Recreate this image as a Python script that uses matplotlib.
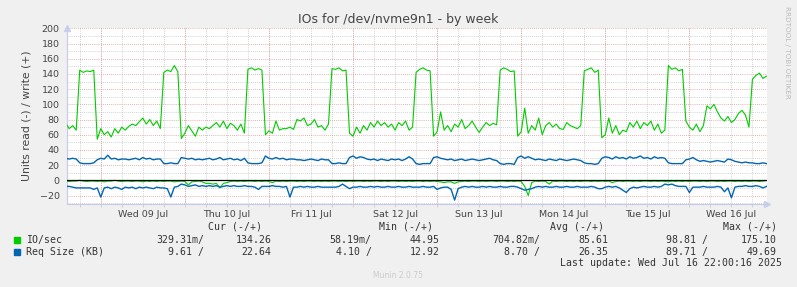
import numpy as np
import pandas as pd
import matplotlib
matplotlib.use('Agg')
import matplotlib.pyplot as plt
from matplotlib.patches import Rectangle

# hourly samples, Jul 8 14:00 .. Jul 16 22:00
times = pd.date_range('2025-07-08 14:00', periods=201, freq='h')

# IO/sec write (+), one row per 24 h
io_write = [
    75, 68, 72, 66, 145, 142, 144, 143, 145, 54, 68, 60, 64, 57, 68, 62, 70, 66, 71, 74, 72, 77, 82, 74,
    80, 72, 78, 68, 142, 145, 143, 151, 143, 55, 62, 72, 65, 58, 70, 66, 70, 68, 72, 76, 70, 78, 68, 75,
    72, 66, 74, 62, 146, 148, 145, 147, 145, 60, 65, 62, 78, 66, 68, 68, 70, 67, 80, 78, 82, 72, 74, 80,
    70, 72, 66, 74, 147, 146, 148, 144, 145, 62, 58, 70, 62, 72, 66, 76, 70, 78, 72, 76, 70, 74, 66, 76,
    72, 78, 66, 70, 142, 146, 148, 145, 144, 58, 64, 90, 66, 72, 64, 74, 70, 80, 68, 72, 78, 70, 63, 70,
    76, 72, 75, 73, 145, 148, 146, 143, 144, 58, 64, 95, 62, 72, 66, 82, 60, 72, 76, 70, 74, 68, 67, 76,
    72, 70, 68, 72, 144, 146, 148, 142, 145, 56, 60, 82, 62, 72, 60, 66, 64, 76, 70, 78, 68, 76, 72, 78,
    66, 74, 62, 66, 151, 146, 148, 144, 146, 78, 70, 66, 74, 64, 72, 98, 94, 100, 90, 82, 78, 84, 76, 80,
    88, 92, 86, 70, 133, 138, 141, 134, 137,
]

# IO/sec read (-), plotted below zero
io_read = [
    1, 1.5, 1, 1, 0, 1, 1.5, 1, 1, 1.5, 1, 2, 1, 1, 0, 1, 1.5, 1, 1, 1.5, 1, 1, 2, 1,
    1.5, 1, 1.5, 1, 1.5, 1, 1, 2, 1.5, 1, 1.5, 6, 2, 1.5, 1, 2, 4, 4, 5, 4, 10, 4, 3, 1.5,
    1, 1.5, 1, 1.5, 1, 1, 1.5, 1, 1.5, 1, 1.5, 3, 1, 1.5, 1, 1.5, 1, 1, 1.5, 1, 1.5, 1, 1, 1.5,
    1, 1.5, 1, 1.5, 1, 1, 1.5, 1, 1.5, 1, 1.5, 1, 1, 1.5, 1, 1.5, 1, 1, 1.5, 1, 1.5, 1, 1, 1.5,
    1, 1.5, 1, 1.5, 1, 1, 1.5, 1, 1.5, 1, 1.5, 2, 3, 2, 2, 4, 2, 1.5, 1, 1.5, 1, 1, 1.5, 1,
    1.5, 1, 1, 1.5, 1, 1, 1.5, 1, 1.5, 1, 1.5, 8, 20, 3, 1, 1.5, 1, 1.5, 5, 1, 1.5, 1, 1, 1.5,
    1, 1.5, 1, 1.5, 1, 1, 1.5, 1, 1.5, 1, 1.5, 1, 3, 1.5, 1, 1.5, 1, 1, 1.5, 1, 1.5, 1, 1, 1.5,
    1, 1.5, 1, 1.5, 2, 1, 1.5, 1, 1.5, 1, 1.5, 1, 1, 1.5, 1, 1.5, 1, 1, 1.5, 1, 1.5, 1, 1, 1.5,
    1, 1.5, 1, 1.5, 1, 1, 1.5, 1, 0.3,
]

# Req Size (KB) write (+)
req_write = [
    29, 28, 29, 28, 23, 22, 22, 22, 23, 27, 29, 28, 33, 28, 29, 27, 28, 28, 27, 28, 29, 27, 30, 28,
    29, 27, 28, 28, 22, 22, 23, 22, 22, 30, 29, 28, 29, 27, 28, 27, 28, 29, 27, 28, 30, 27, 28, 29,
    27, 28, 26, 29, 23, 22, 22, 22, 23, 32, 29, 28, 30, 28, 29, 27, 28, 28, 27, 27, 26, 27, 28, 27,
    26, 28, 27, 27, 22, 22, 23, 22, 22, 30, 32, 29, 31, 30, 28, 27, 28, 26, 28, 27, 26, 28, 27, 28,
    26, 28, 31, 28, 22, 21, 22, 22, 22, 30, 31, 29, 28, 27, 28, 26, 27, 28, 26, 27, 28, 27, 26, 27,
    28, 29, 27, 26, 22, 21, 22, 22, 21, 30, 32, 29, 31, 29, 27, 28, 27, 26, 28, 27, 26, 28, 27, 26,
    27, 28, 27, 26, 23, 22, 22, 21, 22, 29, 31, 30, 28, 31, 29, 30, 28, 31, 29, 30, 32, 29, 30, 28,
    31, 29, 30, 29, 23, 22, 22, 22, 22, 27, 28, 30, 27, 25, 26, 25, 24, 25, 26, 25, 24, 28, 27, 25,
    24, 23, 24, 23, 23, 22, 22, 23, 22,
]

# Req Size (KB) read (-)
req_read = [
    8, 8, 9, 10, 10, 10, 10, 10, 12, 10, 22, 10, 9, 11, 9, 10, 12, 9, 10, 9, 11, 9, 10, 9,
    10, 11, 9, 10, 10, 11, 22, 9, 8, 5, 6, 8, 7, 6, 8, 7, 8, 7, 8, 7, 9, 8, 7, 8,
    7, 8, 8, 7, 8, 8, 9, 12, 8, 8, 8, 7, 8, 8, 9, 8, 22, 9, 9, 8, 9, 8, 9, 9,
    8, 9, 9, 9, 9, 9, 8, 5, 8, 11, 9, 9, 8, 9, 9, 8, 9, 8, 9, 9, 8, 9, 9, 8,
    9, 9, 8, 9, 9, 9, 8, 9, 9, 8, 12, 10, 9, 9, 12, 26, 11, 9, 8, 9, 8, 9, 9, 8,
    9, 8, 9, 9, 8, 9, 9, 8, 8, 9, 11, 13, 12, 11, 9, 8, 9, 8, 9, 9, 8, 9, 9, 8,
    9, 9, 8, 9, 9, 9, 8, 9, 11, 11, 9, 8, 9, 8, 10, 13, 16, 11, 9, 10, 9, 8, 9, 9,
    8, 9, 8, 5, 6, 5, 7, 8, 8, 8, 16, 9, 9, 9, 8, 9, 9, 9, 8, 9, 15, 10, 23, 9,
    8, 8, 7, 8, 8, 7, 8, 10, 8,
]

day_labels = ['Wed 09 Jul', 'Thu 10 Jul', 'Fri 11 Jul', 'Sat 12 Jul',
              'Sun 13 Jul', 'Mon 14 Jul', 'Tue 15 Jul', 'Wed 16 Jul']
stat_headers = ['Cur (-/+)', 'Min (-/+)', 'Avg (-/+)', 'Max (-/+)']
io_stats = ['329.31m/', '134.26', '58.19m/', '44.95', '704.82m/', '85.61', '98.81 /', '175.10']
req_stats = ['9.61 /', '22.64', '4.10 /', '12.92', '8.70 /', '26.35', '89.71 /', '49.69']

GREEN = '#00CC00'
BLUE = '#0066B3'
TXT = '#444444'
RED_GRID = '#E09898'
GREY_GRID = '#C4C4C4'
DOTS = (0, (1, 1.5))
W, H = 797, 287


def fxy(x, y):
    return x / W, 1 - y / H


fig = plt.figure(figsize=(W / 100, H / 100), dpi=100, facecolor='#F0F0F0')
ax = fig.add_axes([66.7 / W, 1 - 203.5 / H, 700 / W, (203.5 - 28.3) / H])
ax.set_facecolor('white')

ax.plot(times, io_write, color=GREEN, lw=0.8, zorder=3)
ax.plot(times, req_write, color=BLUE, lw=1.0, zorder=3)
ax.plot(times, -np.array(io_read), color=GREEN, lw=0.8, zorder=3)
ax.plot(times, -np.array(req_read), color=BLUE, lw=1.0, zorder=3)
ax.axhline(0, color='black', lw=0.9, zorder=4)

ax.set_xlim(pd.Timestamp('2025-07-08 14:17'), pd.Timestamp('2025-07-16 22:04'))
ax.set_ylim(-30.5, 200)

# y grid: red every 20, grey every 10
ax.set_yticks(np.arange(-20, 201, 20))
ax.set_yticks(np.arange(-30, 201, 10), minor=True)
ax.grid(True, which='major', axis='y', color=RED_GRID, lw=0.6, ls=DOTS)
ax.grid(True, which='minor', axis='y', color=GREY_GRID, lw=0.6, ls=DOTS)

# x: labels at noon, grey grid every 6 h, red at midnight
noons = pd.date_range('2025-07-09 12:00', periods=8, freq='D')
ax.set_xticks(noons)
ax.set_xticklabels(day_labels)
ax.set_xticks(pd.date_range('2025-07-08 18:00', '2025-07-16 18:00', freq='6h'), minor=True)
ax.xaxis.remove_overlapping_locs = False
ax.grid(True, which='minor', axis='x', color=GREY_GRID, lw=0.6, ls=DOTS)
for d in pd.date_range('2025-07-09', periods=8, freq='D'):
    ax.axvline(d, color=RED_GRID, lw=0.6, ls=DOTS, zorder=1)
ax.set_axisbelow(True)

ax.tick_params(axis='x', which='major', length=0, pad=5, labelsize=6.8, labelcolor=TXT)
ax.tick_params(axis='x', which='minor', length=2, color='#CCCCCC')
ax.tick_params(axis='y', which='both', length=0, pad=5, labelsize=6.8, labelcolor=TXT)

for s in ['top', 'right']:
    ax.spines[s].set_visible(False)
for s in ['left', 'bottom']:
    ax.spines[s].set_color('#C8C8E8')
    ax.spines[s].set_linewidth(0.8)
ax.plot([1.0], [0], marker='>', color='#C8D0F0', ms=4, transform=ax.transAxes, clip_on=False)
ax.plot([0], [1.0], marker='^', color='#C8D0F0', ms=4, transform=ax.transAxes, clip_on=False)

ax.set_ylabel('Units read (-) / write (+)', fontsize=7.8, color=TXT, labelpad=6)

fig.text(*fxy(398.5, 19), 'IOs for /dev/nvme9n1 - by week', ha='center', va='center',
         fontsize=9, color=TXT)
fig.text(*fxy(787.5, 52), 'RRDTOOL / TOBI OETIKER', ha='center', va='center',
         rotation=270, fontsize=5.2, color='#BBBBBB')
fig.text(*fxy(398, 276), 'Munin 2.0.75', ha='center', va='center', fontsize=5.5, color='#CCCCCC')

mono = dict(family='DejaVu Sans Mono', fontsize=7.1, color='#333333', va='center')
for lab, r in zip(stat_headers, [262, 433, 604, 776.7]):
    fig.text(*fxy(r, 226.7), lab, ha='right', **mono)
rights = [204, 271.7, 371.7, 440, 540, 608.3, 708.3, 776.7]
for row_y, name, vals, col in [(240, 'IO/sec', io_stats, GREEN),
                                (251.7, 'Req Size (KB)', req_stats, BLUE)]:
    fig.add_artist(Rectangle(fxy(14, row_y + 3), 6 / W, 6 / H, color=col,
                             transform=fig.transFigure))
    fig.text(*fxy(26, row_y), name, ha='left', **mono)
    for v, r in zip(vals, rights):
        fig.text(*fxy(r, row_y), v, ha='right', **mono)
fig.text(*fxy(782.3, 263.3), 'Last update: Wed Jul 16 22:00:16 2025', ha='right', **mono)

fig.savefig('out.png', dpi=100, facecolor=fig.get_facecolor())
